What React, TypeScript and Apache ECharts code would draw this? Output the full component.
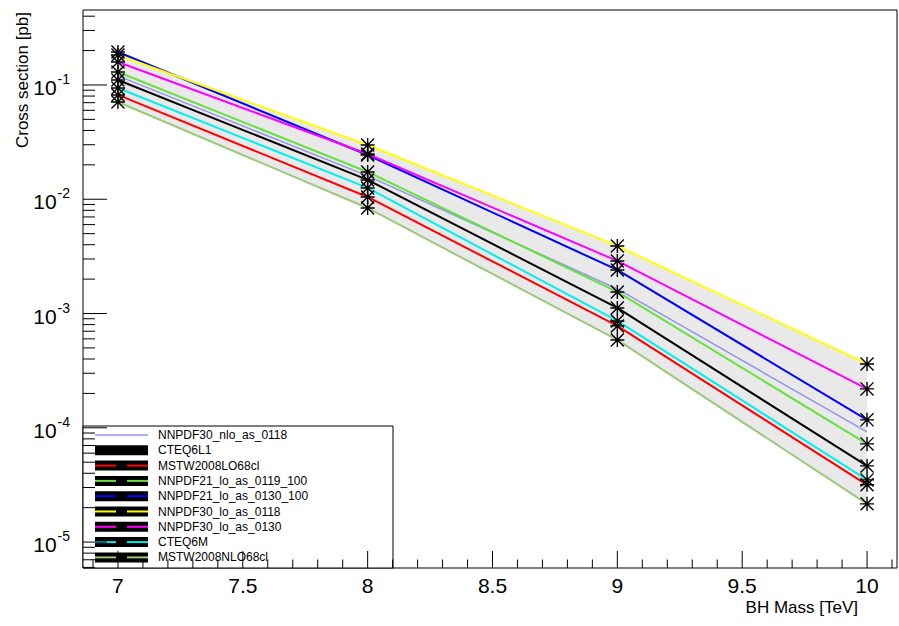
import React, { useEffect, useRef } from "react";
import * as echarts from "echarts";

// Black hole mass points [TeV]
const masses = [7, 8, 9, 10];

// PDF sets, in legend order
const pdfNames = [
  "NNPDF30_nlo_as_0118",
  "CTEQ6L1",
  "MSTW2008LO68cl",
  "NNPDF21_lo_as_0119_100",
  "NNPDF21_lo_as_0130_100",
  "NNPDF30_lo_as_0118",
  "NNPDF30_lo_as_0130",
  "CTEQ6M",
  "MSTW2008NLO68cl",
];
const pdfColors = [
  "#9494ec",
  "#000000",
  "#ff0000",
  "#66e03c",
  "#0000ff",
  "#ffff00",
  "#ff00ff",
  "#00eeee",
  "#9cc87c",
];

// Cross sections [pb] at 7, 8, 9, 10 TeV
const nnpdf30NloAs0118 = [0.12, 0.016, 0.00164, 0.000092];
const cteq6l1 = [0.1106, 0.01476, 0.001119, 0.0000464];
const mstw2008Lo68cl = [0.0818, 0.01047, 0.000779, 0.0000317];
const nnpdf21LoAs0119 = [0.13, 0.01733, 0.001545, 0.0000723];
const nnpdf21LoAs0130 = [0.1945, 0.0244, 0.002406, 0.0001173];
const nnpdf30LoAs0118 = [0.183, 0.02985, 0.003903, 0.000362];
const nnpdf30LoAs0130 = [0.159, 0.0249, 0.002884, 0.000219];
const cteq6m = [0.0941, 0.01256, 0.000861, 0.000035];
const mstw2008Nlo68cl = [0.071, 0.00839, 0.000587, 0.0000216];

const pdfValues = [
  nnpdf30NloAs0118,
  cteq6l1,
  mstw2008Lo68cl,
  nnpdf21LoAs0119,
  nnpdf21LoAs0130,
  nnpdf30LoAs0118,
  nnpdf30LoAs0130,
  cteq6m,
  mstw2008Nlo68cl,
];
// the first set is drawn as a plain line, the rest with star markers
const pdfHasMarker = [false, true, true, true, true, true, true, true, true];

// Axis ranges and labelled ticks
const xMin = 6.86;
const xMax = 10.12;
const yMin = 5.93e-6;
const yMax = 0.453;
const xTickLabels = [7, 7.5, 8, 8.5, 9, 9.5, 10];
const yTickLabels = [1e-5, 1e-4, 1e-3, 1e-2, 1e-1];

const FONT = "Liberation Sans, Arial, Helvetica, sans-serif";

// ROOT-style asterisk marker
const STAR =
  "path://M0 9L20 9L20 11L0 11Z M9 0L11 0L11 20L9 20Z M0 1.4L1.4 0L20 18.6L18.6 20Z M18.6 0L20 1.4L1.4 20L0 18.6Z";

function buildTicks() {
  const ticks: number[][] = [];
  // x: major every 0.5, minor every 0.1
  for (let k = Math.ceil(xMin * 10); k <= Math.floor(xMax * 10); k++) {
    const v = k / 10;
    const major = k % 5 === 0;
    ticks.push([v, yMin, 0, major ? 17 : 8.5]);
  }
  // y: decades long, 2..9 short
  for (let e = -6; e <= 0; e++) {
    for (let m = 1; m <= 9; m++) {
      const v = m * Math.pow(10, e);
      if (v < yMin || v > yMax) continue;
      ticks.push([xMin, v, 1, m === 1 ? 24 : 12]);
    }
  }
  return ticks;
}

function buildOption() {
  const lower = masses.map((_, i) => Math.min(...pdfValues.map((s) => s[i])));
  const upper = masses.map((_, i) => Math.max(...pdfValues.map((s) => s[i])));

  const series: any[] = [];

  // envelope of all PDF sets
  series.push({
    type: "custom",
    name: "envelope",
    coordinateSystem: "cartesian2d",
    z: 1,
    silent: true,
    data: masses.map((m, i) => [m, lower[i], upper[i]]),
    renderItem: (params: any, api: any) => {
      if (params.dataIndex !== 0) return null;
      const top = masses.map((m, i) => api.coord([m, upper[i]]));
      const bottom = masses.map((m, i) => api.coord([m, lower[i]])).reverse();
      return {
        type: "polygon",
        shape: { points: top.concat(bottom) },
        style: { fill: "#e9e9e9" },
      };
    },
  });

  pdfNames.forEach((name, k) => {
    series.push({
      type: "line",
      name,
      z: 3,
      data: masses.map((m, i) => [m, pdfValues[k][i]]),
      symbol: pdfHasMarker[k] ? STAR : "none",
      symbolSize: 14,
      showSymbol: pdfHasMarker[k],
      itemStyle: { color: "#000" },
      lineStyle: { color: pdfColors[k], width: k === 0 ? 1.5 : 2 },
      silent: true,
    });
  });

  // axis ticks drawn inside the frame
  series.push({
    type: "custom",
    name: "ticks",
    coordinateSystem: "cartesian2d",
    z: 4,
    silent: true,
    clip: false,
    data: buildTicks(),
    renderItem: (_params: any, api: any) => {
      const p = api.coord([api.value(0), api.value(1)]);
      const len = api.value(3);
      const vertical = api.value(2) === 0;
      return {
        type: "line",
        shape: vertical
          ? { x1: p[0], y1: p[1], x2: p[0], y2: p[1] - len }
          : { x1: p[0], y1: p[1], x2: p[0] + len, y2: p[1] },
        style: { stroke: "#000", lineWidth: 1 },
      };
    },
  });

  // legend box
  const legendLeft = 83;
  const legendTop = 426;
  const rowH = 15.3;
  const legendChildren: any[] = [
    {
      type: "rect",
      shape: { x: 0, y: 0, width: 310, height: 142 },
      style: { fill: "#fff", stroke: "#000", lineWidth: 1 },
    },
  ];
  pdfNames.forEach((name, k) => {
    const cy = 9 + k * rowH;
    if (pdfHasMarker[k]) {
      legendChildren.push({
        type: "rect",
        shape: { x: 12, y: cy - 5, width: 53, height: 10 },
        style: { fill: "#000" },
      });
      legendChildren.push({
        type: "line",
        shape: { x1: 12, y1: cy, x2: 33, y2: cy },
        style: { stroke: pdfColors[k], lineWidth: 2 },
      });
      legendChildren.push({
        type: "line",
        shape: { x1: 44, y1: cy, x2: 65, y2: cy },
        style: { stroke: pdfColors[k], lineWidth: 2 },
      });
    } else {
      legendChildren.push({
        type: "line",
        shape: { x1: 12, y1: cy, x2: 65, y2: cy },
        style: { stroke: pdfColors[k], lineWidth: 1.5 },
      });
    }
    legendChildren.push({
      type: "text",
      x: 75,
      y: cy,
      style: {
        text: name,
        font: `12px ${FONT}`,
        fill: "#000",
        textVerticalAlign: "middle",
        verticalAlign: "middle",
      },
    });
  });

  return {
    animation: false,
    backgroundColor: "#fff",
    grid: {
      left: 83,
      right: 2,
      top: 10,
      bottom: 58,
      show: true,
      borderColor: "#000",
      borderWidth: 1,
      backgroundColor: "transparent",
      containLabel: false,
      outerBoundsMode: "none",
    },
    xAxis: {
      type: "value",
      min: xMin,
      max: xMax,
      axisLine: { show: false },
      axisTick: { show: false },
      splitLine: { show: false },
      axisLabel: {
        customValues: xTickLabels,
        formatter: (v: number) => String(v),
        color: "#000",
        fontFamily: FONT,
        fontSize: 21,
        margin: 7,
      },
    },
    yAxis: {
      type: "log",
      logBase: 10,
      min: yMin,
      max: yMax,
      axisLine: { show: false },
      axisTick: { show: false },
      splitLine: { show: false },
      minorTick: { show: false },
      axisLabel: {
        customValues: yTickLabels,
        formatter: (v: number) => `{b|10}{s|${Math.round(Math.log10(v))}}`,
        margin: 13,
        rich: {
          b: {
            fontFamily: FONT,
            fontSize: 21,
            color: "#000",
            lineHeight: 26,
            verticalAlign: "bottom",
          },
          s: {
            fontFamily: FONT,
            fontSize: 14,
            color: "#000",
            lineHeight: 26,
            verticalAlign: "top",
            padding: [0, 0, 12, 1],
          },
        },
      },
    },
    series,
    graphic: [
      {
        type: "text",
        x: 22,
        y: 12,
        rotation: Math.PI / 2,
        style: {
          text: "Cross section [pb]",
          font: `17px ${FONT}`,
          fill: "#000",
          align: "right",
          verticalAlign: "middle",
        },
        z: 10,
      },
      {
        type: "text",
        x: 858,
        y: 607,
        style: {
          text: "BH Mass [TeV]",
          font: `17px ${FONT}`,
          fill: "#000",
          align: "right",
          verticalAlign: "middle",
        },
        z: 10,
      },
      {
        type: "group",
        x: legendLeft,
        y: legendTop,
        z: 20,
        children: legendChildren,
      },
    ],
  };
}

export default function App() {
  const ref = useRef<HTMLDivElement>(null);
  useEffect(() => {
    if (!ref.current) return;
    const chart = echarts.init(ref.current, null, { renderer: "svg" });
    chart.setOption(buildOption() as any);
    return () => chart.dispose();
  }, []);
  return (
    <div
      ref={ref}
      style={{
        position: "absolute",
        left: 0,
        top: 0,
        width: 899,
        height: 626,
        background: "#fff",
      }}
    />
  );
}
